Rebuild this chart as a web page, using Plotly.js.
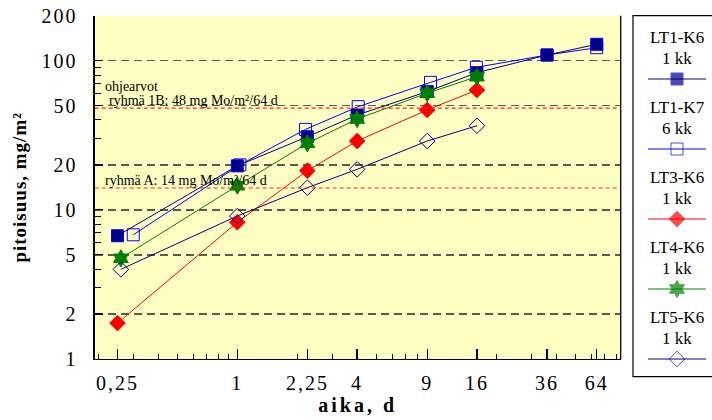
<!DOCTYPE html>
<html><head><meta charset="utf-8">
<script src="https://cdn.plot.ly/plotly-3.0.1.min.js"></script>
<style>
html,body{margin:0;padding:0;background:#fff;}
#chart{width:712px;height:420px;}
.xtick text,.ytick text{letter-spacing:2px;}
.xtitle{letter-spacing:3px;}
.ytitle{letter-spacing:1px;}
</style></head><body><div id="chart"></div>
<script>
// ---- data ----
const seriesNames = ['LT1-K6', 'LT1-K7', 'LT3-K6', 'LT4-K6', 'LT5-K6'];
const seriesSub = ['1 kk', '6 kk', '1 kk', '1 kk', '1 kk'];
const xLT1K6 = [0.25, 1, 2.25, 4, 9, 16, 36, 64];
const yLT1K6 = [6.7, 19.7, 30.9, 43.2, 62, 83, 109, 128.6];
const xLT1K7 = [0.3, 1.03, 2.2, 4.05, 9.35, 15.9, 36, 64];
const yLT1K7 = [6.8, 20, 34.6, 49.1, 71.5, 90.2, 109, 122];
const xLT3K6 = [0.25, 1, 2.25, 4, 9, 16];
const yLT3K6 = [1.74, 8.25, 18.3, 28.9, 46.7, 63.5];
const xLT4K6 = [0.26, 1, 2.25, 4, 9, 16];
const yLT4K6 = [4.73, 14.5, 27.9, 40.6, 60.5, 78];
const xLT5K6 = [0.26, 1, 2.25, 4, 9, 16];
const yLT5K6 = [3.99, 9.09, 14.07, 18.67, 28.9, 36.6];
const xTickVals = [0.25, 1, 2.25, 4, 9, 16, 36, 64];
const xTickText = ['0,25', '1', '2,25', '4', '9', '16', '36', '64'];
const yTickVals = [1, 2, 5, 10, 20, 50, 100, 200];
const yTickText = ['1', '2', '5', '10', '20', '50', '100', '200'];
const guideValues = [48, 14];
const guideLabels = ['ryhmä 1B: 48 mg Mo/m²/64 d', 'ryhmä A: 14 mg Mo/m²/64 d'];
const guideHeader = 'ohjearvot';
const xTitle = 'aika, d';
const yTitle = 'pitoisuus, mg/m²';

// ---- styles ----
const FONT = 'Liberation Serif, Times New Roman, DejaVu Serif, serif';
const styles = [
  {line: '#000080', symbol: 'square', fill: '#000080', edge: '#0000FF', size: 12},
  {line: '#0000FF', symbol: 'square-open', fill: '#0000FF', edge: '#0000FF', size: 12},
  {line: '#FF0000', symbol: 'diamond', fill: '#FF0000', edge: '#FF0000', size: 12},
  {line: '#008000', symbol: 'hexagram', fill: '#008000', edge: '#008000', size: 13},
  {line: '#000080', symbol: 'diamond-open', fill: '#000080', edge: '#000080', size: 12}
];
const xs = [xLT1K6, xLT1K7, xLT3K6, xLT4K6, xLT5K6];
const ys = [yLT1K6, yLT1K7, yLT3K6, yLT4K6, yLT5K6];
const drawOrder = [1, 0, 2, 3, 4];

const traces = [];
drawOrder.forEach(i => {
  const s = styles[i];
  traces.push({
    type: 'scatter', mode: 'lines+markers', name: seriesNames[i],
    x: xs[i], y: ys[i], xaxis: 'x', yaxis: 'y',
    line: {color: s.line, width: 1},
    marker: {symbol: s.symbol, size: s.size, color: s.fill, line: {color: s.edge, width: 1}},
    showlegend: false
  });
});

// custom legend (samples stacked under two-line labels)
const annotations = [];
seriesNames.forEach((nm, i) => {
  const s = styles[i];
  traces.push({
    type: 'scatter', mode: 'lines+markers', xaxis: 'x2', yaxis: 'y2',
    x: [-1, 0, 1], y: [i, i, i], hoverinfo: 'skip', showlegend: false,
    line: {color: s.line, width: 1},
    marker: {symbol: s.symbol, size: [0, s.size, 0], color: s.fill, line: {color: s.edge, width: 1}}
  });
  annotations.push({xref: 'x2', yref: 'y2', x: 0, y: i - 0.6, text: nm, showarrow: false,
    xanchor: 'center', yanchor: 'middle', font: {family: FONT, size: 17, color: '#000'}});
  annotations.push({xref: 'x2', yref: 'y2', x: 0, y: i - 0.3, text: seriesSub[i], showarrow: false,
    xanchor: 'center', yanchor: 'middle', font: {family: FONT, size: 17, color: '#000'}});
});

// guideline labels
annotations.push({xref: 'x domain', yref: 'y', x: 0.015, y: Math.log10(guideValues[0]), yshift: 22,
  text: guideHeader, showarrow: false, xanchor: 'left', yanchor: 'middle',
  font: {family: FONT, size: 14, color: '#000'}});
guideValues.forEach((v, k) => {
  annotations.push({xref: 'x domain', yref: 'y', x: k === 0 ? 0.023 : 0.015, y: Math.log10(v), yshift: 8,
    text: guideLabels[k], showarrow: false, xanchor: 'left', yanchor: 'middle',
    font: {family: FONT, size: 14, color: '#000'}});
});

const shapes = [
  {type: 'rect', xref: 'x domain', yref: 'y domain', x0: 0, x1: 1, y0: 0, y1: 1,
   fillcolor: '#FFFFC4', line: {width: 0}, layer: 'below'},
  {type: 'line', xref: 'x domain', yref: 'y domain', x0: 1, x1: 1, y0: 0, y1: 1,
   line: {color: '#000', width: 1.3}},
  {type: 'rect', xref: 'x2 domain', yref: 'paper', x0: 0, x1: 1.05, y0: 0.1031, y1: 0.9626,
   line: {color: '#000', width: 1.2}, fillcolor: 'rgba(0,0,0,0)'}
];
guideValues.forEach(v => shapes.push({type: 'line', xref: 'x domain', yref: 'y', x0: 0, x1: 1, y0: v, y1: v,
  line: {color: '#FF2020', width: 1.2, dash: '4px,3px'}, layer: 'above'}));

const xMinor = [], yMinor = [];
[0.1, 1, 10].forEach(d => { for (let k = 2; k <= 9; k++) xMinor.push(k * d); });
[1, 10, 100].forEach(d => { for (let k = 2; k <= 9; k++) yMinor.push(k * d); });

const layout = {
  width: 712, height: 420,
  margin: {l: 0, r: 0, t: 0, b: 0},
  paper_bgcolor: '#fff', plot_bgcolor: 'rgba(0,0,0,0)',
  showlegend: false,
  font: {family: FONT},
  xaxis: {
    type: 'log', domain: [94.7 / 712, 620.7 / 712], range: [-0.7166, 1.9266],
    tickmode: 'array', tickvals: xTickVals, ticktext: xTickText,
    ticks: 'inside', ticklen: 10, tickwidth: 1.3, tickcolor: '#000',
    minor: {tickmode: 'array', tickvals: xMinor, ticks: 'inside', ticklen: 5, tickwidth: 1, tickcolor: '#000', showgrid: false},
    showgrid: false, zeroline: false, showline: true, linecolor: '#000', linewidth: 1.3,
    tickfont: {family: FONT, size: 20, color: '#000'}, ticklabelstandoff: 6,
    title: {text: xTitle, font: {family: FONT, size: 20, color: '#000', weight: 'bold'}, standoff: 3},
    fixedrange: true
  },
  yaxis: {
    type: 'log', domain: [61 / 420, 404.3 / 420], range: [0, Math.log10(200)],
    tickmode: 'array', tickvals: yTickVals, ticktext: yTickText,
    ticks: 'inside', ticklen: 8, tickwidth: 1.3, tickcolor: '#000',
    minor: {tickmode: 'array', tickvals: yMinor, ticks: 'inside', ticklen: 6, tickwidth: 1, tickcolor: '#000', showgrid: false},
    showgrid: true, gridcolor: '#5a5a50', gridwidth: 1.6, griddash: '8px,5px',
    zeroline: false, showline: true, linecolor: '#000', linewidth: 1.3,
    tickfont: {family: FONT, size: 20, color: '#000'}, ticklabelstandoff: 12,
    title: {text: yTitle, font: {family: FONT, size: 19, color: '#000', weight: 'bold'}, standoff: 9},
    fixedrange: true
  },
  xaxis2: {domain: [633 / 712, 1], range: [-(677 - 633) / 29, (712 - 677) / 29], visible: false, fixedrange: true},
  yaxis2: {domain: [0, 1], range: [(420 - 79) / 70, -79 / 70], visible: false, fixedrange: true},
  shapes: shapes,
  annotations: annotations
};

Plotly.newPlot('chart', traces, layout, {displayModeBar: false, staticPlot: true});
</script></body></html>
